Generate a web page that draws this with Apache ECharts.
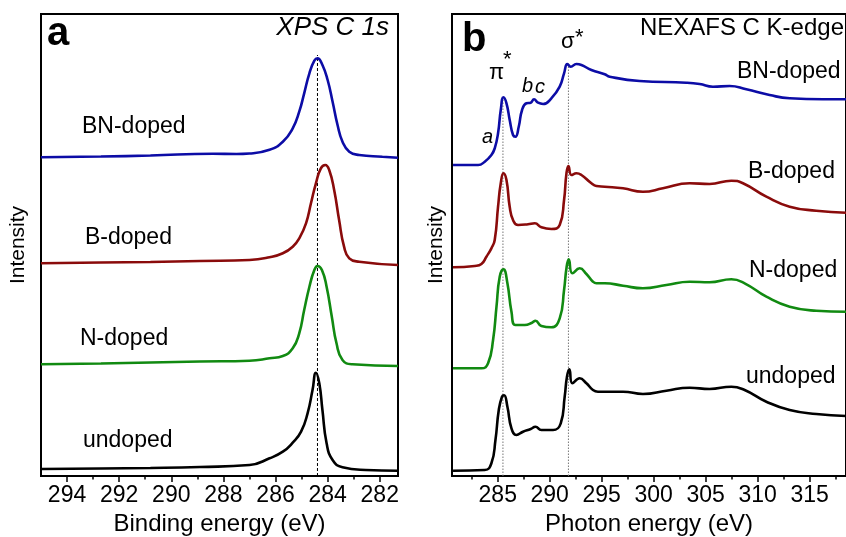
<!DOCTYPE html>
<html>
<head>
<meta charset="utf-8">
<script src="https://cdn.jsdelivr.net/npm/echarts@6.0.0/dist/echarts.min.js"></script>
<style>
html, body { margin: 0; padding: 0; background: #fff; }
#main { width: 846px; height: 537px; }
</style>
</head>
<body>
<div id="main"></div>
<script>
// panel a - XPS C 1s, [binding energy (eV), intensity incl. stacking offset]
var xpsBN = [[295.0,318.7],[292.7,319.5],[290.8,320.5],[288.4,322.3],[287.5,322.0],[287.0,322.5],[286.23,326.2],[285.72,334.3],[285.34,347.7],[285.09,364.3],[284.90,382.7],[284.70,402.7],[284.51,415.3],[284.39,417.7],[284.20,411],[284.00,396],[283.81,374.3],[283.62,351],[283.43,334.3],[283.17,324.3],[282.79,321],[281.90,319.3],[281.3,318.3]];
var xpsB = [[295.0,212.7],[292.7,213.5],[290.8,214],[288.9,215],[287.0,216],[286.23,218.7],[285.72,222.7],[285.34,229.3],[285.09,237.7],[284.83,252.7],[284.64,272.7],[284.45,292.7],[284.26,307.7],[284.09,311],[283.94,306],[283.75,286],[283.56,256],[283.37,229.3],[283.17,217.7],[282.79,214.3],[281.3,211]];
var xpsN = [[295.0,111.7],[292.7,112.5],[290.8,113.5],[288.9,114.5],[287.0,115.3],[286.23,117.7],[285.72,120],[285.34,127.7],[285.09,142.7],[284.90,166],[284.70,189.3],[284.51,206],[284.39,210],[284.22,206],[284.04,189.3],[283.84,159.3],[283.66,132.7],[283.43,116],[283.05,111.7],[281.3,110]];
var xpsUndoped = [[295.0,7],[292.7,7.5],[290.8,8],[288.9,9],[287.0,11],[286.23,17.7],[285.72,24.3],[285.34,33.3],[285.02,44.3],[284.77,62.7],[284.58,86],[284.45,103.3],[284.32,92.7],[284.20,66],[284.04,32.7],[283.81,16],[283.43,8.7],[282.54,6],[281.3,5.3]];
var xpsRef = [[284.39,0],[284.39,421]];

// panel b - NEXAFS C K-edge, [photon energy (eV), intensity incl. stacking offset]
var nexBN = [[280.7,311],[283.11,311],[283.75,314.3],[284.39,321],[284.71,327.7],[285.03,342.7],[285.29,366],[285.55,378.7],[285.84,372.7],[286.15,356],[286.47,341],[286.70,339.3],[287.02,349.3],[287.34,366],[287.76,372.7],[288.17,373.3],[288.49,376.7],[288.88,373.3],[289.36,372],[290.16,377.7],[290.96,389.3],[291.38,402.7],[291.70,412],[292.02,409.3],[292.57,412],[293.05,411],[294.01,406],[295.29,401.7],[295.77,399.3],[298.65,395],[303.14,393.3],[304.42,392],[305.70,389.3],[307.31,390],[308.91,386.7],[311.15,381],[313.08,377.7],[316.28,376.7],[318.5,376.7]];
var nexB = [[280.7,208.7],[282.79,210],[283.43,212],[283.91,219.3],[284.39,227.7],[284.71,236],[285.03,269.3],[285.29,292.7],[285.55,302.7],[285.84,296],[286.15,269.3],[286.47,256],[286.95,251],[287.91,251.7],[288.56,252.7],[289.20,248.7],[290.16,247],[290.96,251],[291.38,276],[291.61,302.7],[291.80,310],[292.09,301],[292.57,302.7],[293.05,301],[294.01,292.7],[294.49,290],[295.29,289.3],[297.05,287.7],[298.97,284.3],[300.89,287.7],[303.46,292.7],[305.38,292],[307.47,295.3],[308.59,292.7],[310.84,279.3],[313.08,269.3],[315.64,265.3],[318.5,263.3]];
var nexN = [[280.7,107.7],[283.43,107.7],[284.07,112.7],[284.55,136],[284.88,169.3],[285.19,199.3],[285.55,206.7],[285.93,192.7],[286.32,164.3],[286.70,151],[287.60,151],[288.30,153.3],[288.63,155.3],[289.20,150],[290.16,148.7],[290.96,157.7],[291.38,186],[291.63,209.3],[291.83,216.7],[292.18,202.7],[292.88,207.7],[293.53,202],[294.16,194.3],[294.49,192.7],[295.29,192.7],[297.05,190.3],[298.97,187.7],[301.22,191],[303.46,194.3],[305.38,193.7],[307.47,196.7],[308.75,192.7],[310.84,179.3],[313.08,169.3],[315.64,165.3],[318.5,164.3]];
var nexUndoped = [[280.7,5.3],[283.75,6],[284.39,12.7],[284.78,36],[285.10,66],[285.41,79.3],[285.61,80.7],[285.93,69.3],[286.32,47.7],[286.80,41],[287.43,44.3],[288.17,47],[288.63,49.3],[289.20,46],[290.32,46],[291.06,52.7],[291.44,79.3],[291.66,99.3],[291.89,106.7],[292.18,92.7],[292.88,97.7],[293.53,92.7],[294.16,86],[294.64,84.3],[297.05,84.3],[298.97,82],[301.22,85.3],[303.46,88.3],[305.38,87],[307.47,89.3],[308.75,86],[310.84,74.3],[313.08,66],[315.64,62],[318.5,60]];
var piRef = [[285.5,0],[285.5,379]];
var sigmaRef = [[291.8,0],[291.8,413]];

// tick values
var xpsMajor = [282, 284, 286, 288, 290, 292, 294];
var xpsMinor = [283, 285, 287, 289, 291, 293];
var nexMajor = [285, 290, 295, 300, 305, 310, 315];
var nexMinor = [282.5, 287.5, 292.5, 297.5, 302.5, 307.5, 312.5, 317.5];

var FONT = '"Liberation Sans", Arial, sans-serif';
var colors = { BN: '#0c0ca6', B: '#8a0b0b', N: '#118a11', un: '#000000' };

function curve(name, data, color, xi, yi) {
    return {
        name: name, type: 'line', data: data, xAxisIndex: xi, yAxisIndex: yi,
        showSymbol: false, smooth: 0.5, silent: true,
        lineStyle: { color: color, width: 2.6 }
    };
}
function refLine(data, color, dash, xi, yi) {
    return {
        type: 'line', data: data, xAxisIndex: xi, yAxisIndex: yi, showSymbol: false,
        silent: true, z: 1, lineStyle: { color: color, width: 1, type: dash }
    };
}
function mainX(grid, min, max, inverse, major, name) {
    return {
        type: 'value', gridIndex: grid, min: min, max: max, inverse: inverse, position: 'bottom',
        axisLine: { show: true, onZero: false, lineStyle: { color: '#000', width: 2 } },
        axisTick: { show: true, length: 6, customValues: major, lineStyle: { color: '#000', width: 1.5 } },
        axisLabel: { customValues: major, fontSize: 23, color: '#000', margin: 8, fontFamily: FONT },
        splitLine: { show: false },
        name: name, nameLocation: 'middle', nameGap: 32,
        nameTextStyle: { fontSize: 24, color: '#000', fontFamily: FONT }
    };
}
function minorX(grid, min, max, inverse, minor) {
    return {
        type: 'value', gridIndex: grid, min: min, max: max, inverse: inverse, position: 'bottom',
        axisLine: { show: false },
        axisTick: { show: true, length: 3.5, customValues: minor, lineStyle: { color: '#000', width: 1.5 } },
        axisLabel: { show: false }, splitLine: { show: false }
    };
}
function yAx(grid, gap) {
    return {
        type: 'value', gridIndex: grid, min: 0, max: 462,
        axisLine: { show: true, lineStyle: { color: '#000', width: 2 } },
        axisTick: { show: false }, axisLabel: { show: false }, splitLine: { show: false },
        name: 'Intensity', nameLocation: 'middle', nameGap: gap,
        nameTextStyle: { fontSize: 21, color: '#000', fontFamily: FONT }
    };
}
function txt(text, x, y, size, opts) {
    opts = opts || {};
    return {
        type: 'text', x: x, y: y, z: 100, silent: true,
        style: {
            text: text, fill: '#000', fontSize: size, fontFamily: FONT,
            fontWeight: opts.weight || 'normal', fontStyle: opts.style || 'normal',
            align: opts.align || 'left', verticalAlign: 'middle'
        }
    };
}

var myChart = echarts.init(document.getElementById('main'));

var option = {
    backgroundColor: '#fff',
    animation: false,
    grid: [
        { left: 41, top: 14, width: 357, height: 462, show: true, borderColor: '#000', borderWidth: 2, outerBoundsMode: 'none' },
        { left: 452, top: 14, width: 394, height: 462, show: true, borderColor: '#000', borderWidth: 2, outerBoundsMode: 'none' }
    ],
    xAxis: [
        mainX(0, 281.3, 295, true, xpsMajor, 'Binding energy (eV)'),
        minorX(0, 281.3, 295, true, xpsMinor),
        mainX(1, 280.6, 318.5, false, nexMajor, 'Photon energy (eV)'),
        minorX(1, 280.6, 318.5, false, nexMinor)
    ],
    yAxis: [yAx(0, 12), yAx(1, 5)],
    series: [
        refLine(xpsRef, '#000', [3, 2], 0, 0),
        curve('BN-doped', xpsBN, colors.BN, 0, 0),
        curve('B-doped', xpsB, colors.B, 0, 0),
        curve('N-doped', xpsN, colors.N, 0, 0),
        curve('undoped', xpsUndoped, colors.un, 0, 0),
        refLine(piRef, '#777', [1.5, 1.5], 2, 1),
        refLine(sigmaRef, '#777', [1.5, 1.5], 2, 1),
        curve('BN-doped', nexBN, colors.BN, 2, 1),
        curve('B-doped', nexB, colors.B, 2, 1),
        curve('N-doped', nexN, colors.N, 2, 1),
        curve('undoped', nexUndoped, colors.un, 2, 1)
    ],
    graphic: [
        txt('a', 47, 34, 40, { weight: 'bold' }),
        txt('XPS C 1s', 389, 28, 26, { style: 'italic', align: 'right' }),
        txt('BN-doped', 82, 127, 23),
        txt('B-doped', 85, 238, 23),
        txt('N-doped', 80, 339, 23),
        txt('undoped', 83, 441, 23),

        txt('b', 462, 40, 40, { weight: 'bold' }),
        txt('NEXAFS C K-edge', 844, 28, 24, { align: 'right' }),
        txt('π', 489, 73, 22),
        txt('*', 503, 60, 22),
        txt('σ', 561, 42, 22),
        txt('*', 575, 38, 22),
        txt('a', 482, 137, 20, { style: 'italic' }),
        txt('b', 522, 86, 20, { style: 'italic' }),
        txt('c', 535, 87, 20, { style: 'italic' }),
        txt('BN-doped', 737, 72, 23),
        txt('B-doped', 748, 172, 23),
        txt('N-doped', 749, 271, 23),
        txt('undoped', 746, 377, 23)
    ]
};

myChart.setOption(option);
</script>
</body>
</html>
